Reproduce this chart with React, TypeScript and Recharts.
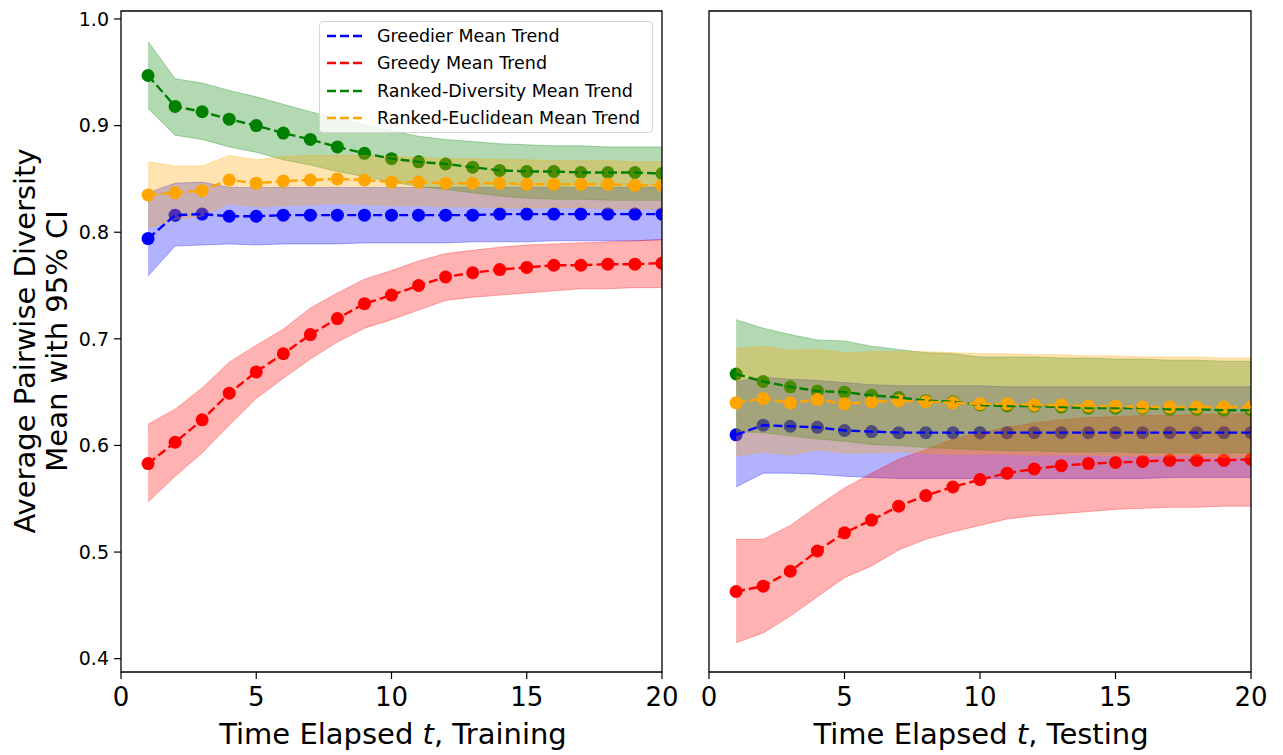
import React from "react";
import {
  ComposedChart,
  Line,
  Area,
  XAxis,
  YAxis,
  ReferenceArea,
} from "recharts";

const FONT = "DejaVu Sans, sans-serif";

// x axis: time steps
const steps = [1, 2, 3, 4, 5, 6, 7, 8, 9, 10, 11, 12, 13, 14, 15, 16, 17, 18, 19, 20];
const xTicks = [0, 5, 10, 15, 20];
const yTicks = [0.4, 0.5, 0.6, 0.7, 0.8, 0.9, 1.0];
const Y_MIN = 0.3875;
const Y_MAX = 1.0075;

// ---- Training ----
const trainGreedierMean = [0.794, 0.816, 0.817, 0.815, 0.815, 0.816, 0.816, 0.816, 0.816, 0.816, 0.816, 0.816, 0.816, 0.817, 0.817, 0.817, 0.817, 0.817, 0.817, 0.817];
const trainGreedierHigh = [0.837, 0.846, 0.847, 0.842, 0.842, 0.842, 0.842, 0.842, 0.842, 0.842, 0.842, 0.842, 0.842, 0.842, 0.842, 0.842, 0.842, 0.842, 0.842, 0.842];
const trainGreedierLow = [0.759, 0.787, 0.788, 0.789, 0.788, 0.789, 0.789, 0.789, 0.79, 0.79, 0.79, 0.79, 0.791, 0.791, 0.791, 0.792, 0.792, 0.792, 0.792, 0.793];

const trainGreedyMean = [0.583, 0.603, 0.624, 0.649, 0.669, 0.686, 0.704, 0.719, 0.733, 0.741, 0.75, 0.758, 0.762, 0.765, 0.767, 0.769, 0.769, 0.77, 0.77, 0.771];
const trainGreedyHigh = [0.62, 0.634, 0.654, 0.678, 0.694, 0.709, 0.729, 0.743, 0.756, 0.764, 0.773, 0.78, 0.783, 0.786, 0.788, 0.789, 0.79, 0.791, 0.792, 0.793];
const trainGreedyLow = [0.547, 0.571, 0.593, 0.619, 0.644, 0.663, 0.681, 0.697, 0.71, 0.718, 0.727, 0.736, 0.739, 0.741, 0.743, 0.745, 0.747, 0.747, 0.748, 0.748];

const trainDiversityMean = [0.947, 0.918, 0.913, 0.906, 0.9, 0.893, 0.887, 0.88, 0.874, 0.869, 0.866, 0.864, 0.861, 0.858, 0.857, 0.857, 0.856, 0.856, 0.856, 0.855];
const trainDiversityHigh = [0.979, 0.944, 0.94, 0.933, 0.927, 0.92, 0.913, 0.907, 0.901, 0.895, 0.89, 0.887, 0.885, 0.883, 0.882, 0.881, 0.881, 0.88, 0.88, 0.88];
const trainDiversityLow = [0.916, 0.891, 0.887, 0.88, 0.875, 0.868, 0.863, 0.857, 0.852, 0.847, 0.843, 0.84, 0.837, 0.834, 0.832, 0.831, 0.831, 0.83, 0.83, 0.83];

const trainEuclideanMean = [0.835, 0.837, 0.839, 0.849, 0.846, 0.848, 0.849, 0.85, 0.849, 0.847, 0.847, 0.846, 0.846, 0.846, 0.845, 0.845, 0.845, 0.845, 0.844, 0.844];
const trainEuclideanHigh = [0.866, 0.862, 0.862, 0.872, 0.868, 0.871, 0.872, 0.872, 0.872, 0.871, 0.87, 0.869, 0.869, 0.868, 0.868, 0.867, 0.867, 0.867, 0.866, 0.866];
const trainEuclideanLow = [0.804, 0.812, 0.815, 0.827, 0.824, 0.825, 0.826, 0.827, 0.826, 0.825, 0.825, 0.824, 0.824, 0.823, 0.823, 0.823, 0.823, 0.822, 0.822, 0.822];

// ---- Testing ----
const testGreedierMean = [0.61, 0.619, 0.618, 0.617, 0.614, 0.613, 0.612, 0.612, 0.612, 0.612, 0.612, 0.612, 0.612, 0.612, 0.612, 0.612, 0.612, 0.612, 0.612, 0.612];
const testGreedierHigh = [0.66, 0.664, 0.662, 0.661, 0.659, 0.657, 0.656, 0.656, 0.656, 0.656, 0.655, 0.655, 0.655, 0.655, 0.655, 0.655, 0.655, 0.655, 0.655, 0.655];
const testGreedierLow = [0.561, 0.574, 0.574, 0.573, 0.571, 0.57, 0.569, 0.569, 0.569, 0.569, 0.569, 0.569, 0.569, 0.569, 0.569, 0.569, 0.57, 0.57, 0.57, 0.57];

const testGreedyMean = [0.463, 0.468, 0.482, 0.501, 0.518, 0.53, 0.543, 0.553, 0.561, 0.568, 0.574, 0.578, 0.581, 0.583, 0.584, 0.585, 0.586, 0.586, 0.586, 0.587];
const testGreedyHigh = [0.512, 0.512, 0.525, 0.543, 0.56, 0.574, 0.587, 0.596, 0.606, 0.612, 0.617, 0.621, 0.624, 0.626, 0.627, 0.628, 0.628, 0.629, 0.629, 0.63];
const testGreedyLow = [0.415, 0.424, 0.44, 0.458, 0.476, 0.487, 0.502, 0.512, 0.519, 0.525, 0.531, 0.534, 0.536, 0.538, 0.54, 0.541, 0.542, 0.542, 0.543, 0.543];

const testDiversityMean = [0.667, 0.66, 0.655, 0.651, 0.65, 0.647, 0.645, 0.642, 0.641, 0.638, 0.637, 0.637, 0.636, 0.635, 0.635, 0.635, 0.634, 0.634, 0.633, 0.633];
const testDiversityHigh = [0.718, 0.71, 0.704, 0.699, 0.698, 0.693, 0.69, 0.687, 0.686, 0.683, 0.683, 0.683, 0.682, 0.682, 0.681, 0.681, 0.68, 0.68, 0.679, 0.679];
const testDiversityLow = [0.613, 0.612, 0.609, 0.606, 0.604, 0.601, 0.6, 0.598, 0.597, 0.596, 0.595, 0.595, 0.594, 0.594, 0.594, 0.593, 0.593, 0.593, 0.593, 0.593];

const testEuclideanMean = [0.64, 0.644, 0.64, 0.643, 0.639, 0.641, 0.642, 0.641, 0.64, 0.639, 0.639, 0.638, 0.638, 0.637, 0.637, 0.636, 0.636, 0.636, 0.636, 0.636];
const testEuclideanHigh = [0.691, 0.693, 0.689, 0.69, 0.687, 0.688, 0.688, 0.688, 0.687, 0.686, 0.686, 0.685, 0.685, 0.684, 0.684, 0.683, 0.683, 0.683, 0.682, 0.682];
const testEuclideanLow = [0.59, 0.594, 0.591, 0.596, 0.593, 0.593, 0.594, 0.593, 0.592, 0.592, 0.592, 0.591, 0.591, 0.591, 0.59, 0.59, 0.59, 0.59, 0.589, 0.589];

const SERIES = [
  { key: "greedier", name: "Greedier Mean Trend", color: "#0000ff" },
  { key: "greedy", name: "Greedy Mean Trend", color: "#ff0000" },
  { key: "diversity", name: "Ranked-Diversity Mean Trend", color: "#008000" },
  { key: "euclidean", name: "Ranked-Euclidean Mean Trend", color: "#ffa500" },
];

const DASH = "9 4";
const LINE_W = 2.4;

type Trio = [number[], number[], number[]];

const buildRows = (sets: Record<string, Trio>) =>
  steps.map((t, i) => {
    const row: any = { t };
    Object.keys(sets).forEach((k) => {
      const [mean, low, high] = sets[k];
      row[k + "Mean"] = mean[i];
      row[k + "Band"] = [low[i], high[i]];
    });
    return row;
  });

const trainRows = buildRows({
  greedier: [trainGreedierMean, trainGreedierLow, trainGreedierHigh],
  greedy: [trainGreedyMean, trainGreedyLow, trainGreedyHigh],
  diversity: [trainDiversityMean, trainDiversityLow, trainDiversityHigh],
  euclidean: [trainEuclideanMean, trainEuclideanLow, trainEuclideanHigh],
});

const testRows = buildRows({
  greedier: [testGreedierMean, testGreedierLow, testGreedierHigh],
  greedy: [testGreedyMean, testGreedyLow, testGreedyHigh],
  diversity: [testDiversityMean, testDiversityLow, testDiversityHigh],
  euclidean: [testEuclideanMean, testEuclideanLow, testEuclideanHigh],
});

type PanelProps = {
  rows: any[];
  width: number;
  yAxisWidth: number;
  marginRight: number;
  showYLabels: boolean;
};

// One layer of the panel. Layers are stacked so that the draw order matches
// the original: markers + band per method, then all dashed trend lines.
const PanelLayer = ({
  rows,
  width,
  yAxisWidth,
  marginRight,
  showYLabels,
  withAxes,
  children,
}: PanelProps & { withAxes: boolean; children: React.ReactNode }) => (
  <ComposedChart
    width={width}
    height={755}
    data={rows}
    margin={
      withAxes
        ? { top: 11, right: marginRight, bottom: 0, left: 0 }
        : { top: 11, right: marginRight, bottom: 83, left: yAxisWidth }
    }
  >
    <XAxis
      dataKey="t"
      type="number"
      domain={[0, 20]}
      ticks={xTicks}
      interval={0}
      allowDataOverflow
      hide={!withAxes}
      height={83}
      tickSize={7}
      tickMargin={9}
      axisLine={false}
      tickLine={{ stroke: "#000", strokeWidth: 1.2 }}
      tick={{ fontSize: 26, fill: "#000", fontFamily: FONT }}
    />
    <YAxis
      type="number"
      domain={[Y_MIN, Y_MAX]}
      ticks={yTicks}
      interval={0}
      allowDataOverflow
      hide={!withAxes}
      width={yAxisWidth}
      tickSize={7}
      tickMargin={5}
      axisLine={false}
      tickLine={{ stroke: "#000", strokeWidth: 1.2 }}
      tick={showYLabels ? { fontSize: 19, fill: "#000", fontFamily: FONT } : false}
      tickFormatter={(v: number) => v.toFixed(1)}
    />
    {children}
  </ComposedChart>
);

const Panel = (props: PanelProps) => {
  const layerStyle: React.CSSProperties = { position: "absolute", left: 0, top: 0 };
  return (
    <div style={{ position: "relative", width: props.width, height: 755 }}>
      {SERIES.map((s, i) => (
        <div key={s.key} style={layerStyle}>
          <PanelLayer {...props} withAxes={i === 0}>
            <Line
              type="linear"
              dataKey={s.key + "Mean"}
              stroke="none"
              dot={{ r: 6.5, fill: s.color, stroke: "none" }}
              activeDot={false}
              isAnimationActive={false}
            />
            <Area
              type="linear"
              dataKey={s.key + "Band"}
              fill={s.color}
              fillOpacity={0.3}
              stroke={s.color}
              strokeOpacity={0.3}
              strokeWidth={1}
              activeDot={false}
              isAnimationActive={false}
            />
          </PanelLayer>
        </div>
      ))}
      <div style={layerStyle}>
        <PanelLayer {...props} withAxes={false}>
          {SERIES.map((s) => (
            <Line
              key={s.key}
              type="linear"
              dataKey={s.key + "Mean"}
              stroke={s.color}
              strokeWidth={LINE_W}
              strokeDasharray={DASH}
              dot={false}
              activeDot={false}
              isAnimationActive={false}
            />
          ))}
          <ReferenceArea
            x1={0}
            x2={20}
            y1={Y_MIN}
            y2={Y_MAX}
            fill="none"
            stroke="#000"
            strokeWidth={1.3}
            ifOverflow="visible"
          />
        </PanelLayer>
      </div>
    </div>
  );
};

const Legend = () => (
  <div
    style={{
      position: "absolute",
      left: 319,
      top: 21,
      width: 334,
      height: 112,
      boxSizing: "border-box",
      border: "1px solid #d6d6d6",
      borderRadius: 4,
      background: "rgba(255,255,255,0.8)",
      fontFamily: FONT,
      fontSize: 17.5,
      color: "#000",
    }}
  >
    {SERIES.map((s, i) => (
      <div
        key={s.key}
        style={{
          position: "absolute",
          left: 0,
          top: 2 + i * 27.3,
          height: 24,
          display: "flex",
          alignItems: "center",
          whiteSpace: "nowrap",
        }}
      >
        <svg width={57} height={24}>
          <line
            x1={7}
            x2={43}
            y1={12}
            y2={12}
            stroke={s.color}
            strokeWidth={LINE_W}
            strokeDasharray={DASH}
          />
        </svg>
        <span>{s.name}</span>
      </div>
    ))}
  </div>
);

export default function App() {
  return (
    <div
      style={{
        position: "absolute",
        left: 0,
        top: 0,
        width: 1283,
        height: 755,
        background: "#fff",
        overflow: "hidden",
      }}
    >
      <div style={{ position: "absolute", left: 0, top: 0 }}>
        <Panel rows={trainRows} width={680} yAxisWidth={121} marginRight={18} showYLabels />
      </div>
      <div style={{ position: "absolute", left: 680, top: 0 }}>
        <Panel rows={testRows} width={603} yAxisWidth={29} marginRight={32} showYLabels={false} />
      </div>
      <Legend />
      <svg
        width={1283}
        height={755}
        style={{ position: "absolute", left: 0, top: 0, pointerEvents: "none" }}
        fontFamily={FONT}
      >
        <text x={393} y={744} textAnchor="middle" fontSize={29} fill="#000">
          Time Elapsed <tspan fontStyle="italic">t</tspan>, Training
        </text>
        <text x={981} y={744} textAnchor="middle" fontSize={29} fill="#000">
          Time Elapsed <tspan fontStyle="italic">t</tspan>, Testing
        </text>
        <text
          transform="translate(35, 341) rotate(-90)"
          textAnchor="middle"
          fontSize={29}
          fill="#000"
        >
          Average Pairwise Diversity
        </text>
        <text
          transform="translate(67, 341) rotate(-90)"
          textAnchor="middle"
          fontSize={29}
          fill="#000"
        >
          Mean with 95% CI
        </text>
      </svg>
    </div>
  );
}
